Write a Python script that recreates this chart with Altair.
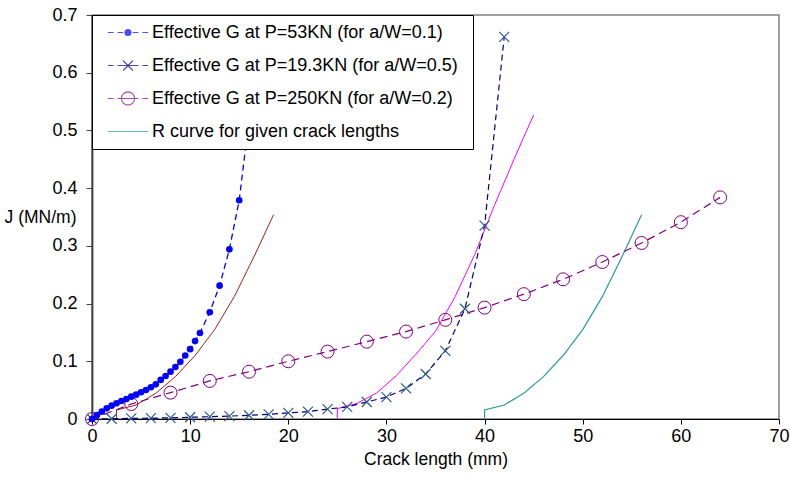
import altair as alt
import pandas as pd

FONT = "Liberation Sans"

names = [
    "Effective G at P=53KN (for a/W=0.1)",
    "Effective G at P=19.3KN (for a/W=0.5)",
    "Effective G at P=250KN (for a/W=0.2)",
    "R curve for given crack lengths",
]

# Series 1: P=53KN
s1_x = [0, 0.5, 1, 1.5, 2, 2.5, 3, 3.5, 4, 4.5, 5, 5.5, 6, 6.5, 7, 7.5, 8, 8.5, 9, 9.5,
        10, 10.5, 11, 12, 13, 14, 15, 16]
s1_y = [0, 0.0069, 0.0127, 0.0185, 0.0231, 0.0272, 0.0312, 0.0347, 0.0387, 0.0422, 0.0463,
        0.0503, 0.055, 0.060, 0.0677, 0.0746, 0.082, 0.090, 0.099, 0.110, 0.121, 0.135,
        0.149, 0.185, 0.231, 0.294, 0.379, 0.52]

# Series 2: P=19.3KN
s2_x = [0, 2, 4, 6, 8, 10, 12, 14, 16, 18, 20, 22, 24, 26, 28, 30, 32, 34, 36, 38, 40, 42]
s2_y = [0, 0.0005, 0.001, 0.0015, 0.002, 0.003, 0.004, 0.005, 0.0065, 0.008, 0.0105, 0.0127,
        0.017, 0.021, 0.0295, 0.038, 0.053, 0.078, 0.118, 0.191, 0.335, 0.662]

# Series 3: P=250KN
s3_x = [0, 4, 8, 12, 16, 20, 24, 28, 32, 36, 40, 44, 48, 52, 56, 60, 64]
s3_y = [0, 0.026, 0.0457, 0.066, 0.082, 0.100, 0.1168, 0.134, 0.1515, 0.1718, 0.193, 0.2163,
        0.242, 0.272, 0.305, 0.341, 0.384]

# R curves
r_teal_x = [40, 40, 42, 44, 46, 48, 50, 52, 54, 56]
r_brown_x = [2.5, 2.5, 4.5, 6.5, 8.5, 10.5, 12.5, 14.5, 16.5, 18.5]
r_y = [0, 0.0156, 0.0243, 0.0445, 0.0734, 0.110, 0.155, 0.212, 0.281, 0.354]
r_mag_x = [25, 25, 27, 29, 31, 33, 35, 37, 39, 41, 43, 45]
r_mag_y = [0, 0.018, 0.027, 0.045, 0.075, 0.112, 0.152, 0.212, 0.285, 0.37, 0.45, 0.527]

BLUE = "#0000FF"
NAVY = "#000080"
XCOL = "#2E5A88"
PURPLE = "#800080"
TEAL = "#2A9D9A"
BROWN = "#A0201A"
MAGENTA = "#FF00FF"


def frame(xs, ys):
    return pd.DataFrame({"x": xs, "y": ys, "i": list(range(len(xs)))})


xaxis = alt.Axis(
    values=[0, 10, 20, 30, 40, 50, 60, 70], title="Crack length (mm)", grid=False,
    domainColor="black", domainWidth=1, tickColor="black", tickSize=5,
    labelPadding=3, labelFont=FONT, labelFontSize=18, labelColor="black",
    titleFont=FONT, titleFontSize=17.5, titleFontWeight="normal", titleColor="black",
    titlePadding=5, labelFlush=False,
)
yaxis = alt.Axis(
    values=[0, 0.1, 0.2, 0.3, 0.4, 0.5, 0.6, 0.7], title="J (MN/m)", grid=False,
    domainColor="#404040", domainWidth=1.8, tickColor="#404040", tickSize=6,
    labelPadding=9, labelFont=FONT, labelFontSize=18, labelColor="black",
    labelExpr="datum.value == 0 ? '0' : format(datum.value, '.1f')",
    titleFont=FONT, titleFontSize=17.5, titleFontWeight="normal", titleColor="black",
    titleAngle=0, titleAlign="right", titleBaseline="middle", titleX=-16, titleY=202,
    labelFlush=False,
)
X = alt.X("x:Q", scale=alt.Scale(domain=[0, 70], nice=False, zero=False), axis=xaxis)
Y = alt.Y("y:Q", scale=alt.Scale(domain=[0, 0.7], nice=False), axis=yaxis)
O = alt.Order("i:Q")

d1 = frame(s1_x, s1_y)
d2 = frame(s2_x, s2_y)
d3 = frame(s3_x, s3_y)
dt = frame(r_teal_x, r_y)
db = frame(r_brown_x, r_y)
dm = frame(r_mag_x, r_mag_y)

layers = [
    alt.Chart(db).mark_line(color=BROWN, strokeWidth=1).encode(x=X, y=Y, order=O),
    alt.Chart(dm).mark_line(color=MAGENTA, strokeWidth=1).encode(x=X, y=Y, order=O),
    alt.Chart(dt).mark_line(color=TEAL, strokeWidth=1.2).encode(x=X, y=Y, order=O),
    alt.Chart(d3).mark_line(color=PURPLE, strokeDash=[8, 5], strokeWidth=1.2).encode(x=X, y=Y, order=O),
    alt.Chart(d3).mark_point(shape="circle", filled=False, size=169, color=PURPLE,
                             strokeWidth=1, opacity=1).encode(x=X, y=Y),
    alt.Chart(d2).mark_line(color=NAVY, strokeDash=[6, 4], strokeWidth=1.2).encode(x=X, y=Y, order=O),
    alt.Chart(d2).mark_point(shape="M-1,-1L1,1M-1,1L1,-1", filled=False, size=100, color=XCOL,
                             strokeWidth=1.2, opacity=1).encode(x=X, y=Y),
    alt.Chart(d1).mark_line(color=BLUE, strokeDash=[6, 4], strokeWidth=1.3).encode(x=X, y=Y, order=O),
    alt.Chart(d1).mark_point(shape="circle", filled=True, size=44, color=BLUE,
                             opacity=1).encode(x=X, y=Y),
]

dashes = "M-1,0H-0.72M-0.52,0H-0.24M0.24,0H0.52M0.72,0H1"
dot = "".join(
    f"M{r},0A{r},{r},0,1,1,-{r},0A{r},{r},0,1,1,{r},0Z" for r in (0.15, 0.11, 0.07, 0.03)
)
xs_sym = "M-0.25,-0.25L0.25,0.25M-0.25,0.25L0.25,-0.25M-0.24,0H0.24"
circ = "M0.33,0A0.33,0.33,0,1,1,-0.33,0A0.33,0.33,0,1,1,0.33,0ZM-0.33,0H0.33"
paths = [dashes + dot, dashes + xs_sym, dashes + circ, "M-1,0H1"]
leg_colors = [BLUE, NAVY, PURPLE, TEAL]

LEG = alt.Legend(
    title="M", titleOrient="right", titleColor="white", titleFontSize=10, titlePadding=5,
    orient="top-left", offset=0, padding=1, fillColor="white",
    strokeColor="black", labelFont=FONT, labelFontSize=18, labelColor="black",
    symbolSize=1600, symbolStrokeWidth=1.1, symbolOffset=14, labelOffset=3,
    rowPadding=0, clipHeight=33, zindex=1, labelLimit=0,
)

leg_df = pd.DataFrame({"s": names, "x": [0] * 4, "y": [0] * 4})
legend_layer = alt.Chart(leg_df).transform_filter("datum.x > 1000").mark_point(
    filled=False, strokeWidth=1
).encode(
    x=X, y=Y,
    color=alt.Color("s:N", scale=alt.Scale(domain=names, range=leg_colors), legend=LEG),
    shape=alt.Shape("s:N", scale=alt.Scale(domain=names, range=paths), legend=LEG),
)

chart = alt.layer(*layers, legend_layer).properties(
    width=687, height=404,
    padding={"left": 92, "top": 15, "right": 11, "bottom": 60},
    autosize=alt.AutoSizeParams(type="none"),
    background="white",
).configure_view(stroke="#808080", strokeWidth=1.5)

chart.save("out.html", embed_options={"renderer": "svg", "actions": False})
